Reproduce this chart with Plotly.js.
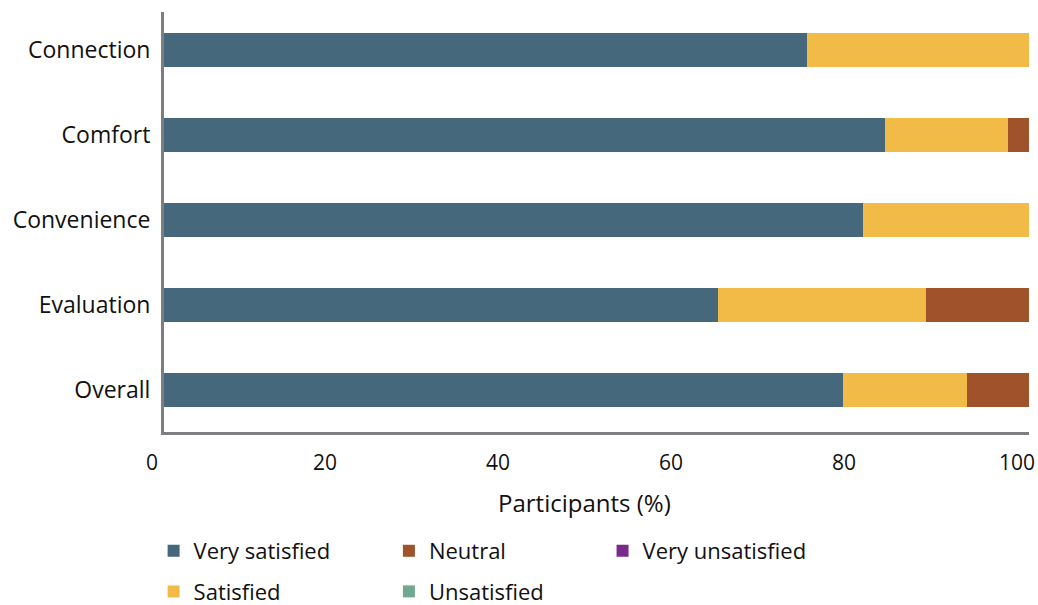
<!DOCTYPE html>
<html>
<head>
<meta charset="utf-8">
<script src="https://cdn.plot.ly/plotly-3.0.1.min.js"></script>
<style>html,body{margin:0;padding:0;background:#fff;}#chart{width:1038px;height:605px;}</style>
</head>
<body>
<div id="chart"></div>
<script>
// Categories (bottom to top on the axis)
const categories = ['Overall', 'Evaluation', 'Convenience', 'Comfort', 'Connection'];
// Series values (% of participants), same order as categories
const verySatisfied   = [78.5, 64.0, 80.8, 83.3, 74.3];
const satisfied       = [14.3, 24.1, 19.2, 14.3, 25.7];
const neutral         = [7.2, 11.9, 0, 2.4, 0];
const unsatisfied     = [0, 0, 0, 0, 0];
const veryUnsatisfied = [0, 0, 0, 0, 0];
const xTicks = [0, 20, 40, 60, 80, 100];
const xTitle = 'Participants (%)';

const seriesNames  = ['Very satisfied', 'Satisfied', 'Neutral', 'Unsatisfied', 'Very unsatisfied'];
const seriesValues = [verySatisfied, satisfied, neutral, unsatisfied, veryUnsatisfied];
const colors  = ['#46687c', '#f2bb47', '#a0532a', '#72a88f', '#7a2a88'];
const legends = ['legend', 'legend', 'legend2', 'legend2', 'legend3'];

const FONT = 'Open Sans, Noto Sans, sans-serif';

const traces = seriesNames.map((name, i) => ({
  type: 'bar',
  orientation: 'h',
  name: name,
  x: seriesValues[i],
  y: categories,
  width: 0.41,
  marker: {color: colors[i], line: {width: 0}},
  legend: legends[i],
  legendgroup: name,
  hoverinfo: 'x+name'
}));

const legendCommon = {
  orientation: 'v',
  yref: 'container',
  yanchor: 'top',
  xanchor: 'left',
  y: 0.124,
  font: {family: FONT, size: 22, color: '#111'},
  bgcolor: 'rgba(0,0,0,0)',
  tracegroupgap: 9,
  itemclick: false,
  itemdoubleclick: false
};

const layout = {
  width: 1038,
  height: 605,
  margin: {l: 164, r: 9, t: 12, b: 173},
  paper_bgcolor: '#fff',
  plot_bgcolor: '#fff',
  barmode: 'stack',
  font: {family: FONT, size: 20, color: '#111'},
  xaxis: {
    range: [0, 100],
    tickvals: xTicks,
    ticktext: xTicks.map(String),
    showgrid: false,
    zeroline: false,
    showline: true,
    linecolor: '#7d7d82',
    linewidth: 3,
    ticks: '',
    ticklabelshift: -12,
    ticklabelstandoff: 10,
    tickfont: {family: FONT, size: 21, color: '#111'},
    automargin: false,
    fixedrange: true
  },
  yaxis: {
    type: 'category',
    categoryorder: 'array',
    categoryarray: categories,
    range: [-0.494, 4.447],
    showgrid: false,
    zeroline: false,
    showline: true,
    linecolor: '#7d7d82',
    linewidth: 3,
    ticks: '',
    ticklabelstandoff: 6,
    tickfont: {family: FONT, size: 23, color: '#111'},
    automargin: false,
    fixedrange: true
  },
  annotations: [{
    text: xTitle,
    xref: 'paper', yref: 'paper',
    x: 0.5, y: -0.169,
    xanchor: 'center', yanchor: 'middle',
    xshift: -12,
    showarrow: false,
    font: {family: FONT, size: 24, color: '#111'}
  }],
  legend:  Object.assign({}, legendCommon, {x: -0.012}),
  legend2: Object.assign({}, legendCommon, {x: 0.26}),
  legend3: Object.assign({}, legendCommon, {x: 0.507}),
  showlegend: true
};

Plotly.newPlot('chart', traces, layout, {displayModeBar: false, staticPlot: true});
</script>
</body>
</html>
